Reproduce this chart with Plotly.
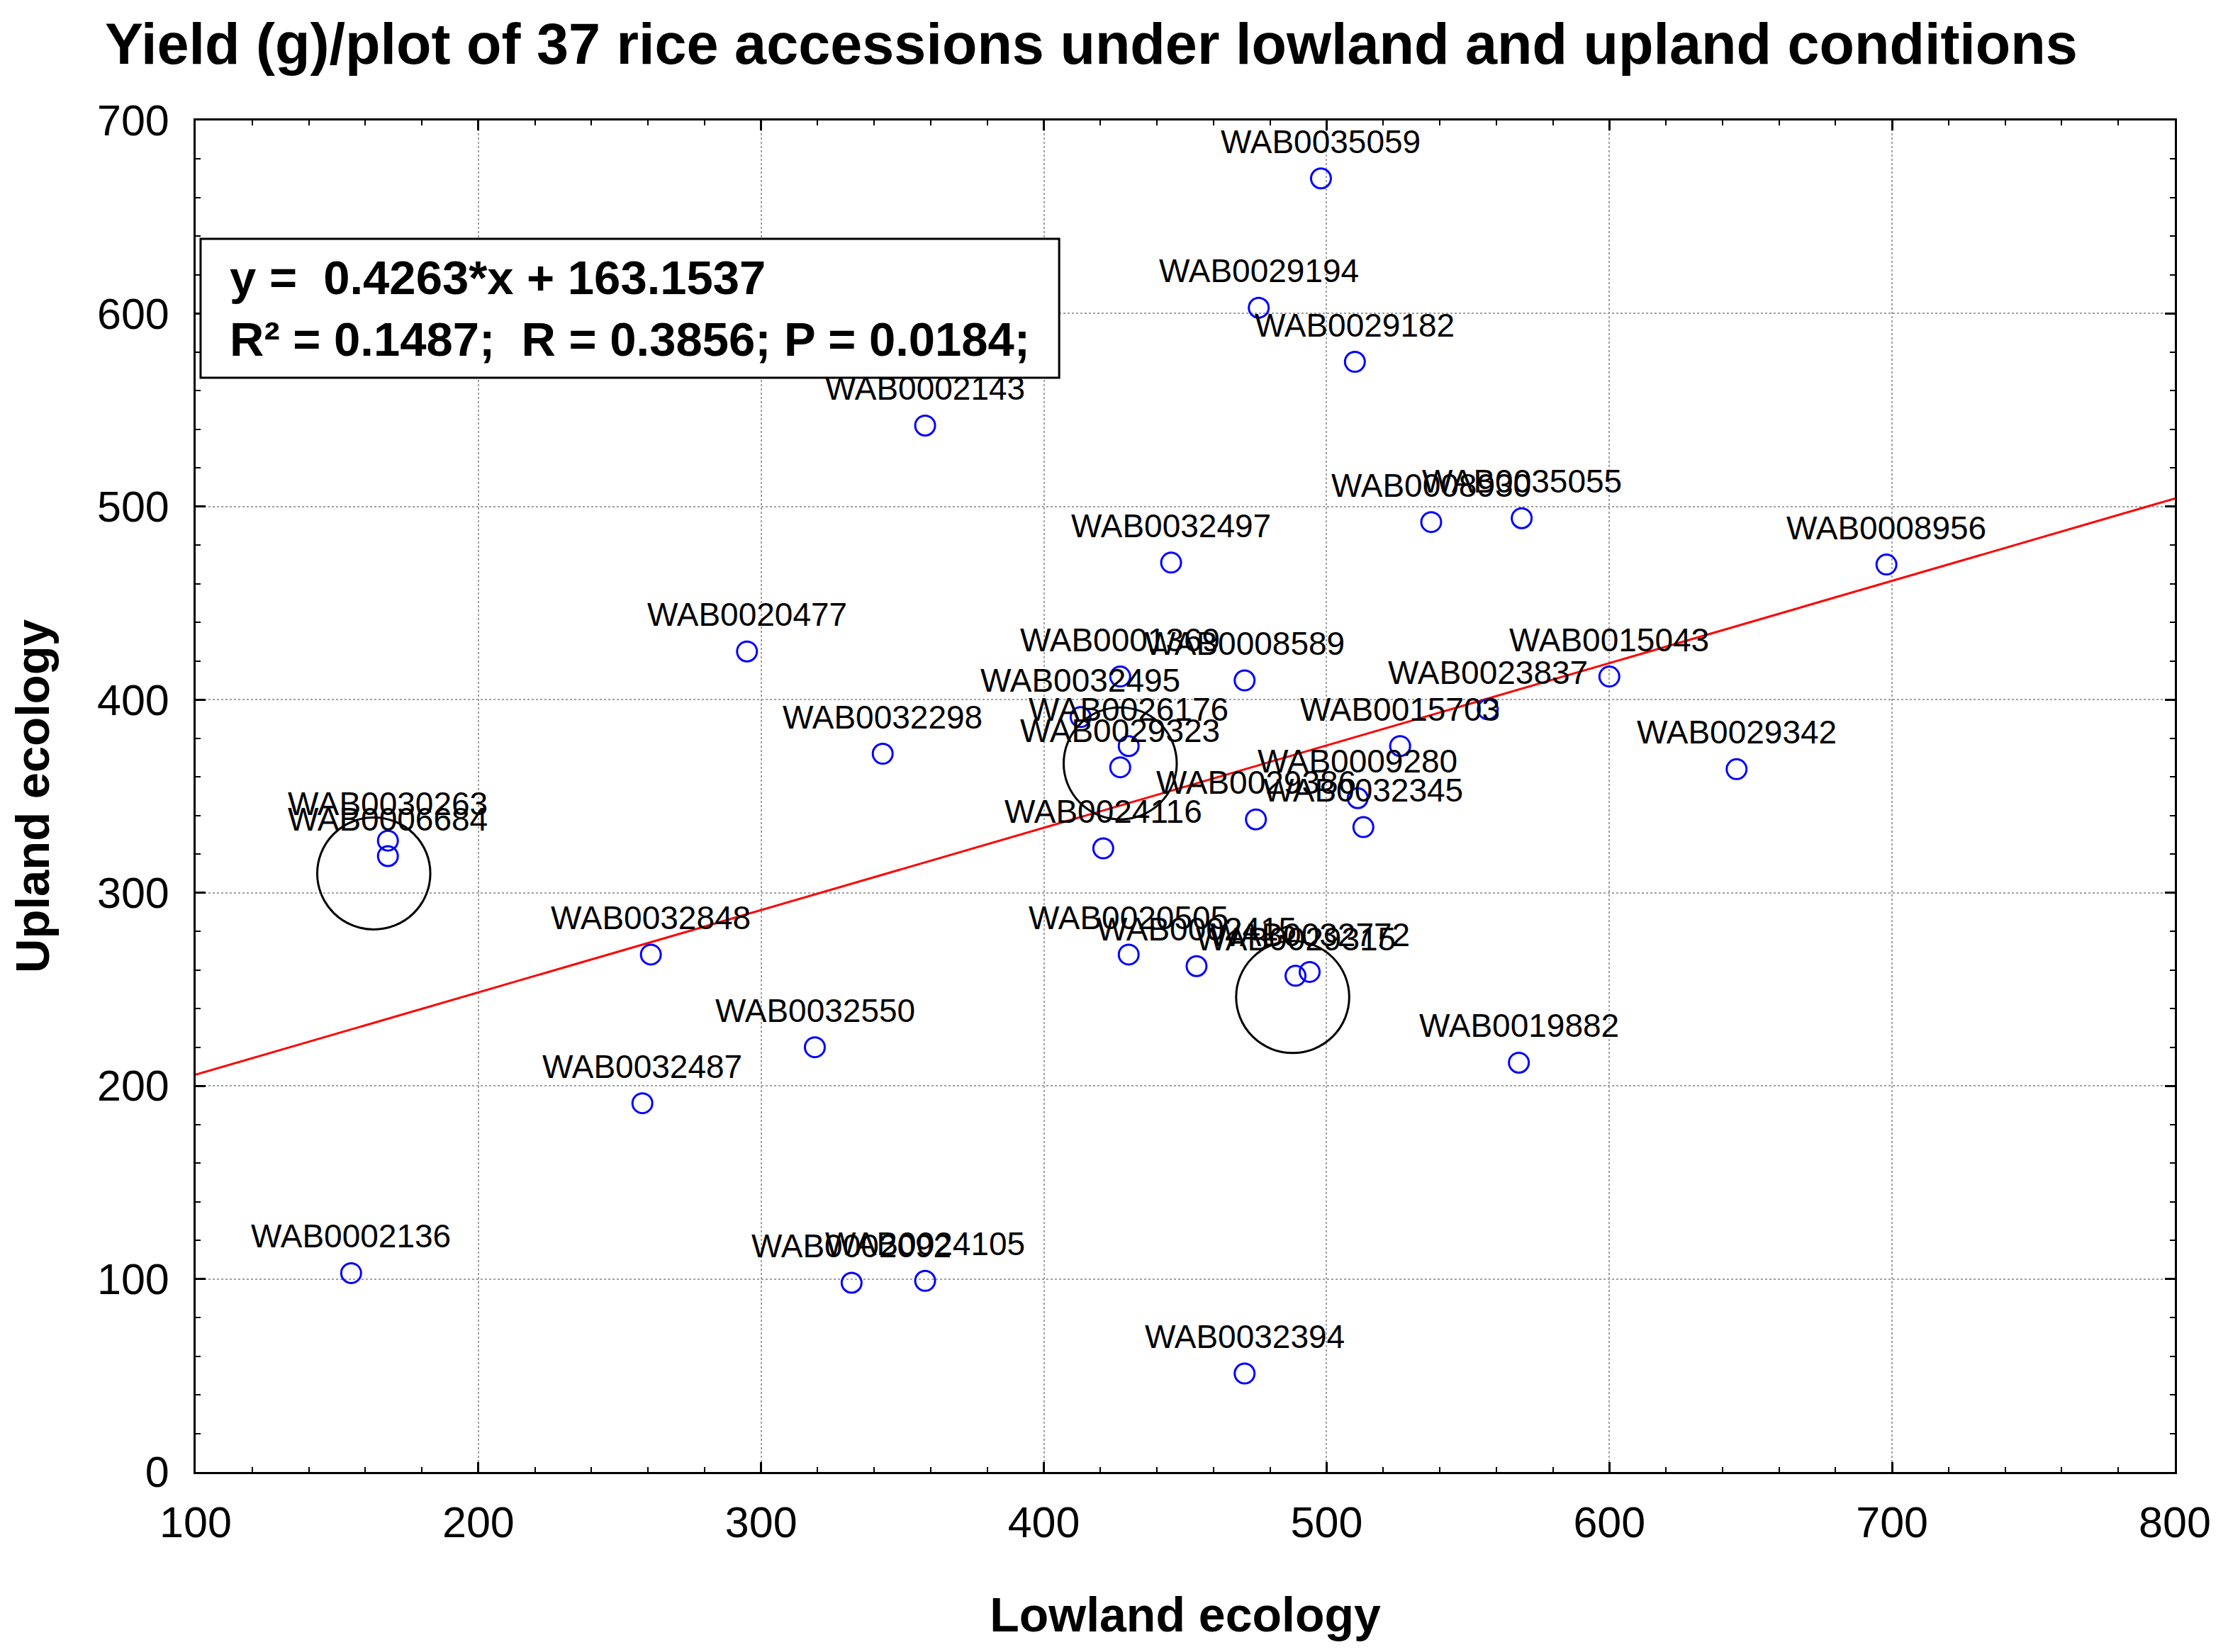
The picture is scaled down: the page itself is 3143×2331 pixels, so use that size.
import plotly.graph_objects as go

# accession names and yields (g/plot)
accessions = [
    "WAB0035059", "WAB0029194", "WAB0029182", "WAB0002143", "WAB0008930",
    "WAB0035055", "WAB0008956", "WAB0032497", "WAB0020477", "WAB0001369",
    "WAB0008589", "WAB0032495", "WAB0026176", "WAB0029323", "WAB0032298",
    "WAB0015043", "WAB0023837", "WAB0015703", "WAB0029342", "WAB0009280",
    "WAB0032345", "WAB0029386", "WAB0024116", "WAB0030263", "WAB0006684",
    "WAB0032848", "WAB0020505", "WAB0002415", "WAB0029315", "WAB0032772",
    "WAB0032550", "WAB0019882", "WAB0032487", "WAB0002136", "WAB0002092",
    "WAB0024105", "WAB0032394",
]
lowland = [
    498, 476, 510, 358, 537,
    569, 698, 445, 295, 427,
    471, 413, 430, 427, 343,
    600, 557, 526, 645, 511,
    513, 475, 421, 168, 168,
    261, 430, 454, 489, 494,
    319, 568, 258, 155, 332,
    358, 471,
]
upland = [
    670, 603, 575, 542, 492,
    494, 470, 471, 425, 412,
    410, 391, 376, 365, 372,
    412, 395, 376, 364, 349,
    334, 338, 323, 327, 319,
    268, 268, 262, 257, 259,
    220, 212, 191, 103, 98,
    99, 51,
]

# fitted line from the chart's own equation
slope = 0.4263
intercept = 163.1537
fit_x = [100, 800]

# hand drawn rings around clustered accessions (centre x, centre y)
ring_x = [163, 427, 488]
ring_y = [310, 367, 246]
ring_rx = 20
ring_ry = 29

font_name = "Liberation Sans, Arial, sans-serif"

fig = go.Figure()

fig.add_trace(go.Scatter(
    x=fit_x, y=[slope * v + intercept for v in fit_x],
    mode="lines", line=dict(color="red", width=3),
    hoverinfo="skip", showlegend=False))

fig.add_trace(go.Scatter(
    x=lowland, y=upland, text=accessions, hoverinfo="x+y+text",
    mode="markers",
    marker=dict(symbol="circle-open", size=28, color="blue",
                line=dict(width=3, color="blue")),
    showlegend=False))

# point labels sit a little above each marker
for name, lx, uy in zip(accessions, lowland, upland):
    fig.add_annotation(x=lx, y=uy, text=name, showarrow=False,
                       xanchor="center", yanchor="bottom", yshift=24,
                       font=dict(family=font_name, size=46, color="black"))

for cx, cy in zip(ring_x, ring_y):
    fig.add_shape(type="circle", xref="x", yref="y",
                  x0=cx - ring_rx, x1=cx + ring_rx,
                  y0=cy - ring_ry, y1=cy + ring_ry,
                  line=dict(color="black", width=3))

# equation box
fig.add_shape(type="rect", xref="paper", yref="paper",
              x0=0.0025, x1=0.4363, y0=0.8096, y1=0.9124,
              line=dict(color="black", width=3), fillcolor="white",
              layer="above")
fig.add_annotation(
    xref="paper", yref="paper", x=0.0165, y=0.8610,
    xanchor="left", yanchor="middle", align="left", showarrow=False,
    text="y =\u00a0\u00a00.4263*x + 163.1537<br>"
         "R² = 0.1487;\u00a0\u00a0R = 0.3856; P = 0.0184;",
    font=dict(family=font_name, size=67, color="black", weight="bold"))

axis_common = dict(
    showline=True, linecolor="black", linewidth=3, mirror="allticks",
    ticks="inside", ticklen=14, tickwidth=3, tickcolor="black",
    showgrid=True, gridcolor="#a0a0a0", gridwidth=2, griddash="dot",
    zeroline=False, automargin=False,
    tickfont=dict(family=font_name, size=61, color="black"),
    minor=dict(ticks="inside", ticklen=7, tickwidth=2, tickcolor="black",
               dtick=20, showgrid=False),
)

fig.update_xaxes(range=[100, 800], dtick=100, ticklabelstandoff=16,
                 title=dict(text="<b>Lowland ecology</b>", standoff=74,
                            font=dict(family=font_name, size=68, color="black")),
                 **axis_common)
fig.update_yaxes(range=[0, 700], dtick=100, ticklabelstandoff=22,
                 title=dict(text="<b>Upland ecology</b>", standoff=54,
                            font=dict(family=font_name, size=67, color="black")),
                 **axis_common)

fig.update_layout(
    width=3143, height=2331,
    paper_bgcolor="white", plot_bgcolor="white",
    margin=dict(l=268, r=83, t=162, b=262),
    title=dict(text="<b>Yield (g)/plot of 37 rice accessions under lowland and upland conditions</b>",
               x=140 / 3143, xanchor="left", y=1 - 54 / 2331, yanchor="middle",
               font=dict(family=font_name, size=81, color="black")),
)

fig.write_html("out.html")
